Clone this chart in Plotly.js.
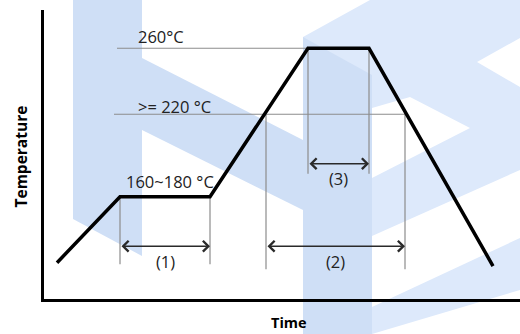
<!DOCTYPE html>
<html>
<head>
<meta charset="utf-8">
<script src="https://cdn.plot.ly/plotly-3.0.1.min.js"></script>
<style>
  html, body { margin: 0; padding: 0; background: #fff; }
  #myPlot { width: 520px; height: 334px; }
</style>
</head>
<body>
<div id="myPlot"></div>
<script>
// reflow profile (time in arbitrary units, temperature in °C)
const profileTime = [13, 76, 166, 264, 325, 449];
const profileTemp = [130, 170, 170, 260, 260, 128];

// horizontal guide levels
const levelTemps = [260, 220];
const levelStart = [73, 70];
const levelEnd = [264, 361];

// measured windows (1) preheat, (2) above 220, (3) peak
const windowLabels = ['(1)', '(2)', '(3)'];
const windowStart = [76, 222, 264];
const windowEnd = [166, 361, 325];
const windowTop = [170, 220, 260];
const windowBottom = [129, 126, 184];
const arrowTemp = [140, 140, 190];

const tempLabels = ['260°C', '>= 220 °C', '160~180 °C'];
const tempLabelTime = [92, 92, 80];
const tempLabelTemp = [260, 220, 170];

const W = 520, H = 334;
const M = { l: 44, r: 0, t: 10, b: 35 };

// pixel -> paper helper for the background watermark
function pp(x, y) {
    const px = (x - M.l) / (W - M.l - M.r);
    const py = (H - M.b - y) / (H - M.t - M.b);
    return px.toFixed(4) + ',' + py.toFixed(4);
}
function poly(points, color) {
    return {
        type: 'path', xref: 'paper', yref: 'paper', layer: 'below',
        path: 'M' + points.map(p => pp(p[0], p[1])).join(' L') + ' Z',
        fillcolor: color, line: { width: 0 }
    };
}

const light = '#dde9fb';
const mid = '#cfdff6';
const shapes = [
    poly([[303, 37], [370, 0], [520, 0], [520, 334], [303, 334]], light),
    poly([[520, 38], [477, 62], [520, 87]], '#ffffff'),
    poly([[372, 108], [410, 97], [470, 128], [372, 178]], '#ffffff'),
    poly([[372, 236], [520, 170], [520, 238], [372, 307]], '#ffffff'),
    poly([[372, 334], [520, 290], [520, 334]], '#ffffff'),
    poly([[73, 0], [142, 0], [142, 256], [73, 219]], mid),
    poly([[142, 58], [303, 140], [303, 210], [142, 130]], mid),
    poly([[303, 37], [372, 75], [372, 334], [303, 334]], mid)
];

// guide lines
const gx = [], gy = [];
levelTemps.forEach((t, i) => {
    gx.push(levelStart[i], levelEnd[i], null);
    gy.push(t, t, null);
});
windowStart.forEach((s, i) => {
    gx.push(s, s, null, windowEnd[i], windowEnd[i], null);
    gy.push(windowTop[i], windowBottom[i], null, windowTop[i], windowBottom[i], null);
});

const guideTrace = {
    x: gx, y: gy, type: 'scatter', mode: 'lines',
    line: { color: '#8c8c8c', width: 1.2 },
    hoverinfo: 'skip', showlegend: false
};

const profileTrace = {
    x: profileTime, y: profileTemp, type: 'scatter', mode: 'lines',
    line: { color: '#000000', width: 3.5 },
    showlegend: false
};

const font = { family: 'Open Sans, sans-serif', size: 16.5, color: '#222' };
const annotations = [];

// double arrows + labels
windowLabels.forEach((lab, i) => {
    annotations.push({
        x: windowEnd[i], y: arrowTemp[i], xref: 'x', yref: 'y',
        ax: windowStart[i], ay: arrowTemp[i], axref: 'x', ayref: 'y',
        text: '', showarrow: true, arrowside: 'end+start',
        arrowhead: 4, startarrowhead: 4, arrowsize: 1.5, startarrowsize: 1.5,
        arrowwidth: 1.4, arrowcolor: '#2a2a2a', standoff: 0, startstandoff: 0
    });
    annotations.push({
        x: (windowStart[i] + windowEnd[i]) / 2, y: arrowTemp[i], xref: 'x', yref: 'y',
        text: lab, showarrow: false, yshift: -15, font: font
    });
});

const labelShift = [12, 8, 15];
tempLabels.forEach((lab, i) => {
    annotations.push({
        x: tempLabelTime[i], y: tempLabelTemp[i], xref: 'x', yref: 'y',
        text: lab, showarrow: false, xanchor: 'left', yshift: labelShift[i], font: font
    });
});

annotations.push({
    x: 0, y: 0.5, xref: 'paper', yref: 'paper', xshift: -24, yshift: -2,
    xanchor: 'center', yanchor: 'middle',
    text: '<b>Temperature</b>', textangle: -90, showarrow: false,
    font: { family: 'Open Sans, sans-serif', size: 15.5, color: '#000' }
});
annotations.push({
    x: 0.5147, y: 0, xref: 'paper', yref: 'paper', yshift: -23,
    xanchor: 'center', yanchor: 'middle',
    text: '<b>Time</b>', showarrow: false,
    font: { family: 'Open Sans, sans-serif', size: 14.5, color: '#000' }
});

const layout = {
    width: W, height: H,
    margin: M,
    paper_bgcolor: '#ffffff',
    plot_bgcolor: 'rgba(0,0,0,0)',
    showlegend: false,
    xaxis: {
        range: [0, 476], showgrid: false, zeroline: false, showticklabels: false,
        ticks: '', showline: true, linecolor: '#000', linewidth: 3
    },
    yaxis: {
        range: [108, 283.2], showgrid: false, zeroline: false, showticklabels: false,
        ticks: '', showline: true, linecolor: '#000', linewidth: 3
    },
    shapes: shapes,
    annotations: annotations
};

Plotly.newPlot('myPlot', [guideTrace, profileTrace], layout, { staticPlot: true });
</script>
</body>
</html>
